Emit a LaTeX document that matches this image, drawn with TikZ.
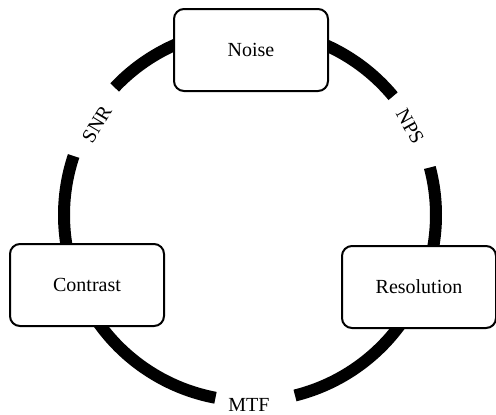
\documentclass[tikz,border=0pt]{standalone}
\usepackage{fontspec}
\setmainfont{Liberation Serif}
\usetikzlibrary{positioning,calc}

\begin{document}
\begin{tikzpicture}[
    x=0.5pt, y=0.5pt,
    qbox/.style={draw, line width=1pt, rounded corners=5pt, fill=white, minimum width=77pt, minimum height=41pt, align=center, font=\fontsize{10}{12}\selectfont},
    ring/.style={line width=6pt, black},
    tag/.style={font=\fontsize{10}{12}\selectfont, inner sep=1pt}
]
\useasboundingbox (0,0) rectangle (496,414);
\coordinate (c) at (250,199);

% broken ring
\draw[ring] (c) ++(284:186) arc[start angle=284, end angle=374.8, radius=186];
\draw[ring] (c) ++(39.7:186) arc[start angle=39.7, end angle=136.7, radius=186];
\draw[ring] (c) ++(161.5:186) arc[start angle=161.5, end angle=259.3, radius=186];

\node[qbox] (noise) at (251,364) {Noise};
\node[qbox] (contrast) at (87,129) {Contrast};
\node[qbox] (resolution) at (419,127) {Resolution};

\node[tag, rotate=59] (snr) at ($(c)+(149.4:178)$) {SNR};
\node[tag, rotate=-61] (nps) at ($(c)+(29:183)$) {NPS};
\node[tag] (mtf) at (249,9) {MTF};
\end{tikzpicture}
\end{document}
